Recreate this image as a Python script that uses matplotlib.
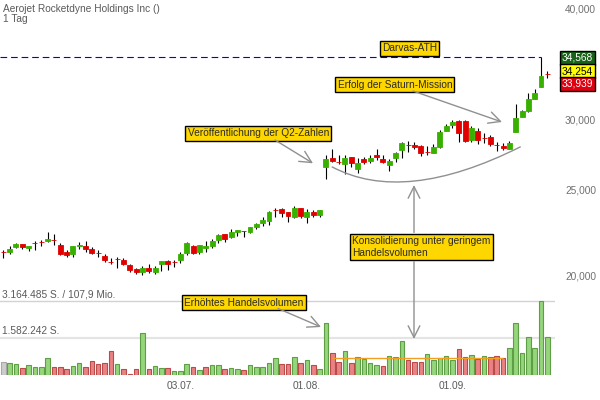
import matplotlib
matplotlib.use('Agg')
import matplotlib.pyplot as plt
import matplotlib.transforms as mtransforms
from matplotlib.path import Path
from matplotlib.patches import PathPatch
import numpy as np

plt.rcParams['font.family'] = ['Liberation Sans', 'DejaVu Sans']

title = "Aerojet Rocketdyne Holdings Inc ()"
subtitle = "1 Tag"

opens = [21.590, 21.613, 21.897, 22.051, 21.822, 22.120, 22.178, 22.240, 22.275, 21.994,
         21.580, 21.469, 21.960, 21.920, 21.765, 21.552, 21.374, 21.037, 21.200, 21.136,
         20.880, 20.662, 20.518, 20.717, 20.518, 20.951, 21.098, 21.037, 21.136, 21.558,
         21.937, 21.613, 21.840, 21.937, 22.280, 22.630, 22.473, 22.765, 22.800, 22.765,
         23.063, 23.287, 23.426, 24.078, 24.147, 23.942, 23.671, 24.191, 23.671, 23.961,
         23.795, 26.952, 27.568, 27.275, 27.163, 27.640, 26.812, 27.474, 27.375, 27.784,
         27.496, 27.093, 27.590, 28.162, 28.526, 28.536, 28.440, 28.035, 27.950, 28.388,
         29.568, 30.057, 30.346, 30.346, 28.884, 29.568, 29.070, 29.089, 28.548, 28.462,
         28.240, 29.515, 30.688, 31.144, 32.128, 33.173, 34.270]
highs = [21.708, 21.937, 22.126, 22.070, 21.920, 22.223, 22.263, 22.730, 22.630, 22.091,
         21.691, 21.920, 22.148, 22.223, 21.862, 21.708, 21.469, 21.263, 21.335, 21.247,
         20.934, 20.733, 20.809, 20.934, 20.809, 21.098, 21.152, 21.152, 21.597, 22.183,
         21.994, 21.994, 22.240, 22.320, 22.648, 22.630, 22.924, 22.864, 22.800, 23.045,
         23.287, 23.653, 24.041, 24.191, 24.191, 23.942, 24.318, 24.191, 24.128, 24.084,
         24.066, 27.784, 28.196, 27.784, 27.784, 27.640, 27.568, 27.640, 27.784, 28.196,
         27.784, 27.496, 28.022, 28.758, 28.810, 28.714, 28.536, 28.462, 28.566, 29.644,
         30.112, 30.424, 30.424, 30.424, 29.956, 29.800, 29.393, 29.287, 28.736, 28.684,
         28.832, 31.716, 31.224, 32.660, 32.974, 35.861, 34.568]
lows = [21.280, 21.486, 21.805, 21.765, 21.669, 21.708, 21.920, 22.148, 21.994, 21.447,
        21.319, 21.302, 21.765, 21.613, 21.469, 21.302, 21.027, 20.934, 20.733, 20.880,
        20.518, 20.413, 20.328, 20.465, 20.413, 20.555, 20.624, 20.755, 20.972, 21.447,
        21.469, 21.502, 21.613, 21.840, 22.126, 22.183, 22.414, 22.531, 22.473, 22.706,
        22.942, 23.124, 23.185, 23.671, 23.671, 23.365, 23.591, 23.610, 23.304, 23.671,
        23.671, 26.084, 27.304, 27.142, 26.467, 26.910, 26.494, 27.121, 27.192, 27.424,
        27.192, 26.652, 27.304, 27.590, 28.000, 28.218, 27.734, 27.784, 27.906, 28.314,
        29.568, 29.800, 28.758, 28.758, 28.736, 28.588, 28.684, 28.462, 28.072, 28.122,
        28.240, 29.515, 30.688, 31.088, 32.128, 33.121, 33.939]
closes = [21.580, 21.765, 22.051, 21.897, 21.920, 22.108, 22.166, 22.338, 22.263, 21.502,
          21.430, 21.920, 21.977, 21.765, 21.558, 21.540, 21.169, 21.027, 21.191, 20.951,
          20.624, 20.518, 20.717, 20.571, 20.717, 21.098, 20.951, 21.027, 21.486, 22.091,
          21.558, 21.994, 21.954, 22.240, 22.572, 22.356, 22.747, 22.864, 22.788, 23.045,
          23.226, 23.468, 23.942, 24.066, 23.899, 23.733, 24.191, 23.733, 23.942, 23.795,
          24.066, 27.474, 27.354, 27.262, 27.568, 27.192, 27.234, 27.283, 27.568, 27.640,
          27.283, 27.354, 27.928, 28.662, 28.514, 28.388, 27.928, 28.022, 28.366, 29.515,
          29.956, 30.268, 29.439, 28.810, 29.800, 28.884, 29.059, 28.610, 28.536, 28.292,
          28.662, 30.560, 31.144, 32.101, 32.660, 34.100, 34.254]
volumes = [537000, 509000, 467000, 297000, 424000, 325000, 325000, 707000, 353000, 339000,
           269000, 367000, 495000, 325000, 580000, 452000, 523000, 1032000, 467000, 254000,
           57000, 269000, 1810000, 269000, 396000, 283000, 297000, 184000, 184000, 452000,
           325000, 212000, 325000, 438000, 438000, 240000, 311000, 269000, 226000, 424000,
           325000, 325000, 495000, 707000, 452000, 467000, 749000, 509000, 636000, 424000,
           240000, 2234000, 919000, 551000, 1004000, 509000, 749000, 679000, 495000, 424000,
           396000, 806000, 764000, 1428000, 636000, 537000, 537000, 891000, 650000, 735000,
           820000, 636000, 1103000, 764000, 834000, 693000, 792000, 749000, 792000, 735000,
           1131000, 2234000, 947000, 1612000, 1145000, 3164485, 1612000]

date_ticks = [28, 48, 71]
date_labels = ["03.07.", "01.08.", "01.09."]
price_ticks = [20, 25, 30, 40]
consol_start, consol_end = 52, 79

ann_darvas = "Darvas-ATH"
ann_saturn = "Erfolg der Saturn-Mission"
ann_q2 = "Veröffentlichung der Q2-Zahlen"
ann_consol = "Konsolidierung unter geringem\nHandelsvolumen"
ann_volume = "Erhöhtes Handelsvolumen"


def de_num(v, dec):
    s = f"{v:,.{dec}f}"
    return s.replace(',', 'X').replace('.', ',').replace('X', '.')


FS = 7.3
GREEN = '#38b000'
RED = '#e00000'
TXT = '#5a5a5a'

fig = plt.figure(figsize=(6, 4), dpi=100)
fig.patch.set_facecolor('white')
rect = [0, 25 / 400, 555 / 600, 375 / 400]

n = len(closes)
x = np.arange(n)
o = np.array(opens); h = np.array(highs); l = np.array(lows); c = np.array(closes)
v = np.array(volumes, dtype=float)

# volume axes (behind)
axv = fig.add_axes(rect, zorder=0)
axv.set_xlim(-0.52, 87.21)
vmax = v.max()
axv.set_ylim(0, vmax * 375 / 74.3)
vcol_face, vcol_edge = [], []
for i in range(n):
    if i == 0:
        vcol_face.append('#cccccc'); vcol_edge.append('#a8a8a8')
    elif c[i] > c[i - 1]:
        vcol_face.append('#95d67d'); vcol_edge.append('#5e9e45')
    else:
        vcol_face.append('#e98383'); vcol_edge.append('#b94b4b')
axv.bar(x, v, width=0.72, color=vcol_face, edgecolor=vcol_edge, linewidth=0.8, zorder=3)
axv.axhline(vmax, color='#d2d2d2', lw=1.0, zorder=1)
axv.axhline(vmax / 2, color='#e4e4e4', lw=1.6, zorder=1)
avg = v[consol_start:consol_end + 1].mean()
axv.hlines(avg, consol_start, consol_end, colors='#f0a020', lw=1.0, zorder=4)
blend_v = mtransforms.blended_transform_factory(axv.transAxes, axv.transData)
off_v = mtransforms.offset_copy(blend_v, fig=fig, x=2, y=1.5, units='dots')
mio = vmax * c[int(v.argmax())] / 1e6
axv.text(0, vmax, f"{de_num(vmax, 0)} S. / {de_num(mio, 1)} Mio.", transform=off_v,
         ha='left', va='bottom', fontsize=FS, color=TXT)
axv.text(0, vmax / 2, f"{de_num(vmax / 2, 0)} S.", transform=off_v,
         ha='left', va='bottom', fontsize=FS, color=TXT)
axv.axis('off')

# price axes
ax = fig.add_axes(rect, zorder=1)
ax.patch.set_alpha(0)
ax.set_xlim(-0.52, 87.21)
ax.set_yscale('log')
ax.set_ylim(15.694, 41.545)
ax.vlines(x, l, h, color='black', lw=0.8, zorder=2)
body_col = [GREEN if c[i] >= o[i] else RED for i in range(n)]
ax.bar(x, np.abs(c - o), bottom=np.minimum(o, c), width=0.78, color=body_col,
       edgecolor=body_col, linewidth=0.6, zorder=3)
imax = int(h.argmax())
ax.hlines(h.max(), -0.52, imax, colors='#0000ee', linestyles=(0, (6, 3.5)), lw=0.8, zorder=1)
for s in ax.spines.values():
    s.set_visible(False)
ax.set_yticks([])
ax.minorticks_off()
ax.set_yticks([], minor=True)
ax.set_xticks(date_ticks, date_labels)
ax.tick_params(axis='x', length=0, pad=4.5, labelsize=FS, colors=TXT)
blend_p = mtransforms.blended_transform_factory(ax.transAxes, ax.transData)
for p in price_ticks:
    ax.text(565 / 555, p, de_num(p, 3), transform=blend_p, ha='left', va='bottom',
            fontsize=FS, color='#707070')

# overlay for annotations (pixel coordinates)
ao = fig.add_axes([0, 0, 1, 1], zorder=10)
ao.set_xlim(0, 600)
ao.set_ylim(400, 0)
ao.axis('off')
ao.patch.set_alpha(0)

ao.text(3, 8.5, title, ha='left', va='center', fontsize=FS, color=TXT)
ao.text(3, 18.5, subtitle, ha='left', va='center', fontsize=FS, color=TXT)

box = dict(boxstyle='square,pad=0.22', fc='#ffd700', ec='black', lw=1)
tc = '#2a2a2a'
ao.text(382, 48.3, ann_darvas, ha='left', va='center', fontsize=FS, color=tc, bbox=box)
ao.text(337.5, 84.6, ann_saturn, ha='left', va='center', fontsize=FS, color=tc, bbox=box)
ao.text(187.5, 133.5, ann_q2, ha='left', va='center', fontsize=FS, color=tc, bbox=box)
ao.text(352.5, 247, ann_consol, ha='left', va='center', fontsize=FS, color=tc, bbox=box,
        linespacing=1.2)
ao.text(184.5, 302.5, ann_volume, ha='left', va='center', fontsize=FS, color=tc, bbox=box)

ap = dict(arrowstyle='->,head_length=0.7,head_width=0.35', color='#909090', lw=1,
          shrinkA=0, shrinkB=0, mutation_scale=12)
ao.annotate('', xy=(502, 122), xytext=(413, 91), arrowprops=ap)
ao.annotate('', xy=(313, 163.3), xytext=(275, 140), arrowprops=ap)
ao.annotate('', xy=(414, 185), xytext=(414, 232.5), arrowprops=ap)
ao.annotate('', xy=(414, 339), xytext=(414, 261.5), arrowprops=ap)
ao.annotate('', xy=(321, 327), xytext=(278, 308.5), arrowprops=ap)

arc = Path([(331.7, 166.7), (403.8, 205.3), (520.7, 146.7)],
           [Path.MOVETO, Path.CURVE3, Path.CURVE3])
ao.add_patch(PathPatch(arc, fill=False, ec='#909090', lw=1))

# last price labels (high / close / low)
lab_box = lambda fc: dict(boxstyle='square,pad=0.18', fc=fc, ec='black', lw=1)
ao.text(562, 57.8, de_num(h[-1], 3), ha='left', va='center', fontsize=FS, color='white',
        bbox=lab_box('#176317'))
ao.text(562, 71, de_num(c[-1], 3), ha='left', va='center', fontsize=FS, color='black',
        bbox=lab_box('#ffff00'))
ao.text(562, 83.8, de_num(l[-1], 3), ha='left', va='center', fontsize=FS, color='white',
        bbox=lab_box('#e00010'))

fig.savefig('out.png', dpi=100)
